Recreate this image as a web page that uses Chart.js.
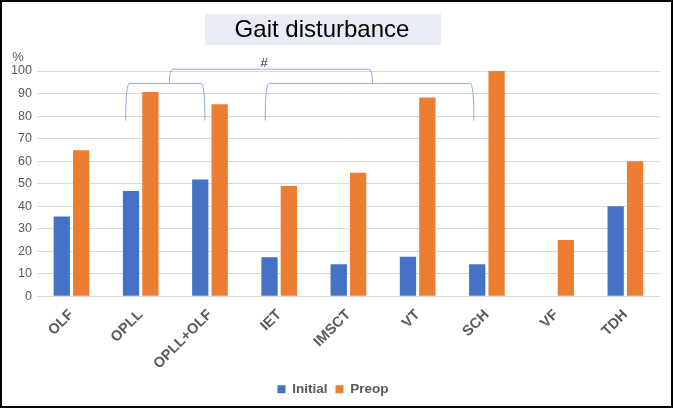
<!DOCTYPE html>
<html>
<head>
<meta charset="utf-8">
<script src="https://cdn.jsdelivr.net/npm/chart.js@4"></script>
<style>
  html, body { margin: 0; padding: 0; background: #fff; }
  #wrap { width: 673px; height: 408px; position: relative; }
</style>
</head>
<body>
<div id="wrap"><canvas id="grafico" width="673" height="408"></canvas></div>
<script>
const categorias = ['OLF', 'OPLL', 'OPLL+OLF', 'IET', 'IMSCT', 'VT', 'SCH', 'VF', 'TDH'];
const valores_initial = [35.4, 46.7, 51.9, 17.4, 14.2, 17.6, 14.3, 0, 40];
const valores_preop = [64.8, 90.7, 85.3, 49, 54.8, 88.2, 100, 25, 60];
const ticks_y = [0, 10, 20, 30, 40, 50, 60, 70, 80, 90, 100];

const titulo = 'Gait disturbance';
const cinza = '#595959';

// titulo com fundo, %, # e chaves
const extras = {
    id: 'extras',
    afterDraw(chart) {
        const c = chart.ctx;
        const x = chart.scales.x;
        const y = chart.scales.y;
        c.save();

        c.fillStyle = '#E9EBF5';
        c.fillRect(205, 14, 236, 31);
        c.fillStyle = '#000';
        c.font = '24px "Liberation Sans", Arial, sans-serif';
        c.textAlign = 'center';
        c.textBaseline = 'middle';
        c.fillText(titulo, 322, 30);

        c.fillStyle = cinza;
        c.font = '13px "Liberation Sans", Arial, sans-serif';
        c.fillText('%', 18, 57);
        c.fillStyle = '#222';
        c.font = '13px "Liberation Sans", Arial, sans-serif';
        c.fillText('#', 264, 63);

        c.strokeStyle = '#8FAADC';
        c.lineWidth = 1;
        const chave = (x1, x2, yt, yb) => {
            c.beginPath();
            c.moveTo(x1, yb);
            c.quadraticCurveTo(x1, yt, x1 + 4, yt);
            c.lineTo(x2 - 4, yt);
            c.quadraticCurveTo(x2, yt, x2, yb);
            c.stroke();
        };
        const yb = y.getPixelForValue(78);
        const y1 = y.getPixelForValue(94.5);
        const y0 = y.getPixelForValue(100.8);
        const a1 = x.getPixelForValue(1) - 15;
        const a2 = x.getPixelForValue(2) - 5;
        const b1 = x.getPixelForValue(3) - 14;
        const b2 = x.getPixelForValue(6) - 13;
        chave(a1, a2, y1, yb);
        chave(b1, b2, y1, yb);
        chave((a1 + a2) / 2 + 4, (b1 + b2) / 2 + 3, y0, y1);

        c.strokeStyle = '#000';
        c.lineWidth = 2;
        c.strokeRect(1, 1, chart.width - 2, chart.height - 2);
        c.restore();
    }
};

const ctx = document.getElementById('grafico');
const grafico = new Chart(ctx, {
    type: 'bar',
    data: {
        labels: categorias,
        datasets: [{
            label: 'Initial',
            data: valores_initial,
            backgroundColor: '#4472C4',
            borderWidth: 0
        }, {
            label: 'Preop',
            data: valores_preop,
            backgroundColor: '#ED7D31',
            borderWidth: 0
        }]
    },
    options: {
        responsive: false,
        animation: false,
        layout: { padding: { top: 71, left: 6, right: 13, bottom: 2 } },
        datasets: {
            bar: { categoryPercentage: 0.56, barPercentage: 0.84 }
        },
        scales: {
            x: {
                grid: { display: false },
                border: { display: false },
                ticks: {
                    color: cinza,
                    padding: 2,
                    minRotation: 45,
                    maxRotation: 45,
                    font: { family: '"Liberation Sans", Arial, sans-serif', size: 14.5, weight: 'bold' }
                }
            },
            y: {
                min: 0,
                max: 100,
                afterBuildTicks: (s) => { s.ticks = ticks_y.map(v => ({ value: v })); },
                grid: { color: '#D9D9D9', drawTicks: false },
                border: { display: false },
                ticks: {
                    color: cinza,
                    padding: 5,
                    font: { family: '"Liberation Sans", Arial, sans-serif', size: 12.5 }
                }
            }
        },
        plugins: {
            title: { display: false },
            tooltip: { enabled: false },
            legend: {
                position: 'bottom',
                labels: {
                    color: cinza,
                    boxWidth: 8,
                    boxHeight: 8,
                    padding: 8,
                    font: { family: '"Liberation Sans", Arial, sans-serif', size: 13.5, weight: 'bold' }
                }
            }
        }
    },
    plugins: [extras]
});
</script>
</body>
</html>
